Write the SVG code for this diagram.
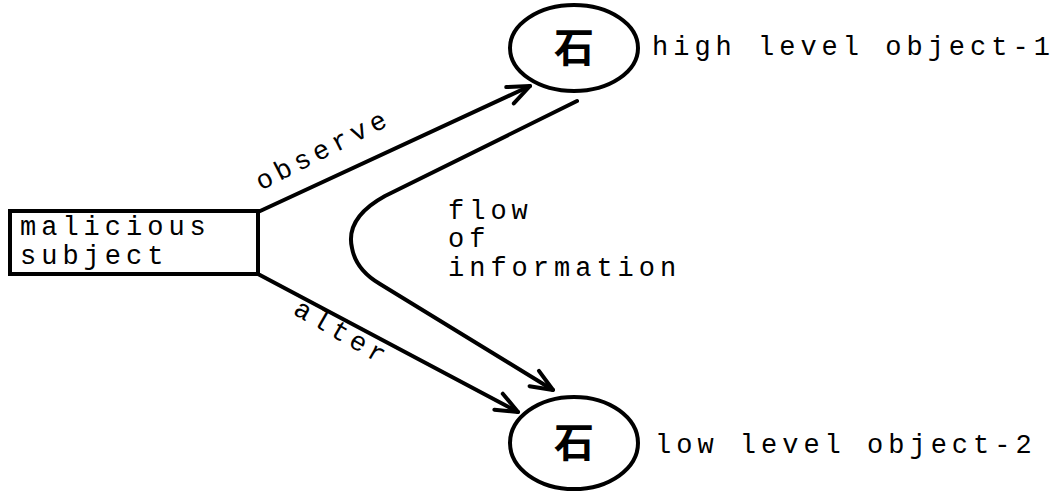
<svg xmlns="http://www.w3.org/2000/svg" width="1063" height="493" viewBox="0 0 1063 493">
<defs>
<style>
.t{font-family:"Liberation Mono","DejaVu Sans Mono",monospace;font-size:27px;fill:#000;letter-spacing:5px}
.k{font-family:"Noto Sans CJK SC","Noto Sans CJK JP",sans-serif;font-size:40px;font-weight:bold;fill:#000}
.ln{fill:none;stroke:#000;stroke-width:4;stroke-linecap:round;stroke-linejoin:round}
</style>
<marker id="ah" viewBox="0 0 20 20" refX="18" refY="10" markerWidth="20" markerHeight="20" markerUnits="userSpaceOnUse" orient="auto" overflow="visible">
<path d="M-4,1 L18,10 L-4,19" fill="none" stroke="#000" stroke-width="4" stroke-linecap="round" stroke-linejoin="round"/>
</marker>
</defs>
<rect width="1063" height="493" fill="#fff"/>
<g id="subject">
<rect x="10" y="211" width="248" height="63" fill="#fff" stroke="#000" stroke-width="4"/>
<text class="t" x="20" y="235">malicious</text>
<text class="t" x="20" y="264">subject</text>
</g>
<g id="high">
<ellipse cx="574" cy="48" rx="64" ry="43" fill="#fff" stroke="#000" stroke-width="4"/>
<text class="k" x="574" y="62" text-anchor="middle">石</text>
<text class="t" x="652" y="55">high level object-1</text>
</g>
<g id="low">
<ellipse cx="574" cy="443" rx="64" ry="46" fill="#fff" stroke="#000" stroke-width="4"/>
<text class="k" x="574" y="457" text-anchor="middle">石</text>
<text class="t" x="655" y="453">low level object-2</text>
</g>
<g id="connectors">
<path class="ln" d="M258,212 L530,86" marker-end="url(#ah)"/>
<path class="ln" d="M258,274 L518,412" marker-end="url(#ah)"/>
<path class="ln" d="M577,101 L385,196 Q345,218 352,248 Q356,270 380,284 L553,390" marker-end="url(#ah)"/>
<text class="t" transform="translate(327,157) rotate(-27)" text-anchor="middle">observe</text>
<text class="t" transform="translate(338,340) rotate(30)" text-anchor="middle">alter</text>
<text class="t" x="448" y="219">flow</text>
<text class="t" x="448" y="247">of</text>
<text class="t" x="448" y="276">information</text>
</g>
</svg>
